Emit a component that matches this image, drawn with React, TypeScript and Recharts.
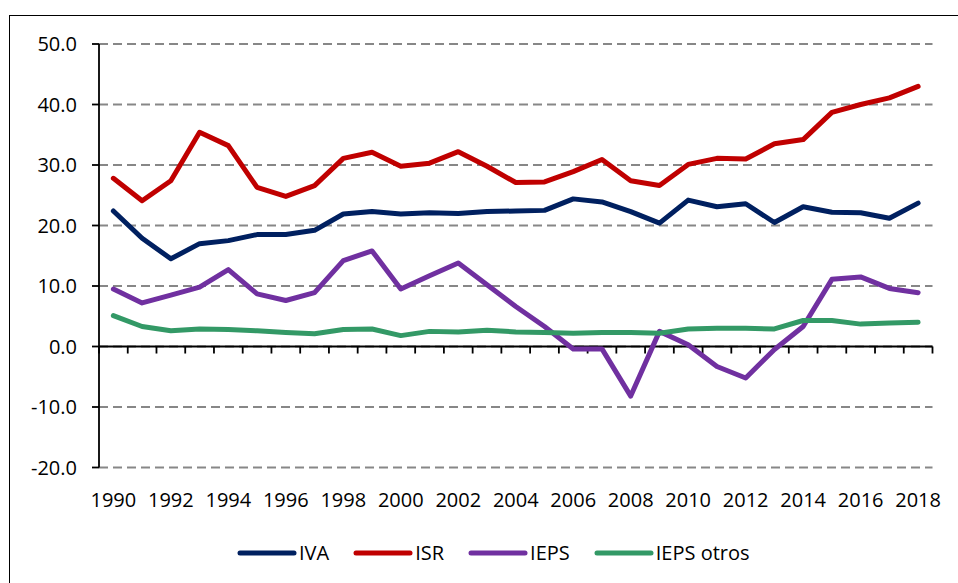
import { LineChart, Line, XAxis, YAxis, CartesianGrid, ReferenceLine } from "recharts"

const years = [
  1990, 1991, 1992, 1993, 1994, 1995, 1996, 1997, 1998, 1999, 2000, 2001, 2002, 2003, 2004,
  2005, 2006, 2007, 2008, 2009, 2010, 2011, 2012, 2013, 2014, 2015, 2016, 2017, 2018,
]
const iva = [
  22.4, 17.9, 14.5, 17.0, 17.5, 18.5, 18.5, 19.2, 21.9, 22.3, 21.9, 22.1, 22.0, 22.3, 22.4,
  22.5, 24.4, 23.9, 22.3, 20.4, 24.2, 23.1, 23.6, 20.5, 23.1, 22.2, 22.1, 21.2, 23.7,
]
const isr = [
  27.8, 24.1, 27.4, 35.4, 33.2, 26.3, 24.8, 26.6, 31.1, 32.1, 29.8, 30.3, 32.2, 29.8, 27.1,
  27.2, 28.9, 30.9, 27.4, 26.6, 30.1, 31.1, 31.0, 33.5, 34.2, 38.7, 40.0, 41.1, 43.0,
]
const ieps = [
  9.5, 7.2, 8.5, 9.8, 12.7, 8.7, 7.6, 8.9, 14.2, 15.8, 9.5, 11.7, 13.8, 10.2, 6.6,
  3.3, -0.4, -0.4, -8.2, 2.5, 0.3, -3.3, -5.2, -0.5, 3.3, 11.1, 11.5, 9.6, 8.9,
]
const iepsOtros = [
  5.1, 3.3, 2.6, 2.9, 2.8, 2.6, 2.3, 2.1, 2.8, 2.9, 1.8, 2.5, 2.4, 2.7, 2.4,
  2.3, 2.2, 2.3, 2.3, 2.2, 2.9, 3.0, 3.0, 2.9, 4.3, 4.3, 3.7, 3.9, 4.0,
]

const yTicks = [-20, -10, 0, 10, 20, 30, 40, 50]
const xTicks = [1990, 1992, 1994, 1996, 1998, 2000, 2002, 2004, 2006, 2008, 2010, 2012, 2014, 2016, 2018]

const series = [
  { key: "iva", name: "IVA", color: "#002060" },
  { key: "isr", name: "ISR", color: "#C00000" },
  { key: "ieps", name: "IEPS", color: "#7030A0" },
  { key: "iepsOtros", name: "IEPS otros", color: "#339966" },
]

const data = years.map((year, i) => ({
  year,
  iva: iva[i],
  isr: isr[i],
  ieps: ieps[i],
  iepsOtros: iepsOtros[i],
}))

// tick marks hanging under the zero line, one at each category boundary
const boundaries = [...years.map((y) => y - 0.5), years[years.length - 1] + 0.5]

const font = "'Open Sans', sans-serif"

export default function App() {
  return (
    <div style={{ position: "absolute", left: 0, top: 0, width: 958, height: 583, overflow: "hidden", fontFamily: font }}>
      <div
        style={{
          position: "absolute",
          left: 9,
          top: 15,
          width: 1000,
          height: 700,
          borderLeft: "1.5px solid #000",
          borderTop: "1.5px solid #000",
        }}
      />
      <div style={{ position: "absolute", left: 0, top: 0 }}>
        <LineChart width={958} height={583} data={data} margin={{ top: 44, right: 25.5, bottom: 55.5, left: 29 }}>
          <CartesianGrid vertical={false} stroke="#878787" strokeDasharray="9 5" strokeWidth={2} />
          <XAxis
            dataKey="year"
            type="number"
            domain={[1989.5, 2018.5]}
            ticks={xTicks}
            interval={0}
            axisLine={false}
            tickLine={false}
            tickSize={0}
            tickMargin={25}
            height={60}
            tick={{ fill: "#000", fontSize: 20, fontFamily: font }}
          />
          <YAxis
            domain={[-20, 50]}
            ticks={yTicks}
            interval={0}
            width={70}
            tickSize={7}
            tickMargin={15}
            tickFormatter={(v: number) => v.toFixed(1)}
            axisLine={{ stroke: "#000", strokeWidth: 1.8 }}
            tickLine={{ stroke: "#000", strokeWidth: 1.8 }}
            tick={{ fill: "#000", fontSize: 20, fontFamily: font }}
          />
          <ReferenceLine y={0} stroke="#000" strokeWidth={2} />
          {boundaries.map((b) => (
            <ReferenceLine
              key={b}
              segment={[
                { x: b, y: 0 },
                { x: b, y: -1.16 },
              ]}
              stroke="#000"
              strokeWidth={1.8}
            />
          ))}
          {series.map((s) => (
            <Line
              key={s.key}
              type="linear"
              dataKey={s.key}
              name={s.name}
              stroke={s.color}
              strokeWidth={5}
              strokeLinejoin="round"
              strokeLinecap="round"
              dot={false}
              activeDot={false}
              isAnimationActive={false}
            />
          ))}
        </LineChart>
      </div>
      <div
        style={{
          position: "absolute",
          left: 237,
          top: 538,
          height: 30,
          display: "flex",
          alignItems: "center",
          fontSize: 20,
          color: "#000",
        }}
      >
        {series.map((s, i) => (
          <div key={s.key} style={{ display: "flex", alignItems: "center", marginLeft: i === 0 ? 0 : 24 }}>
            <svg width={60} height={10}>
              <line x1={3} y1={5} x2={57} y2={5} stroke={s.color} strokeWidth={5} strokeLinecap="round" />
            </svg>
            <span style={{ marginLeft: 2, lineHeight: "30px" }}>{s.name}</span>
          </div>
        ))}
      </div>
    </div>
  )
}
